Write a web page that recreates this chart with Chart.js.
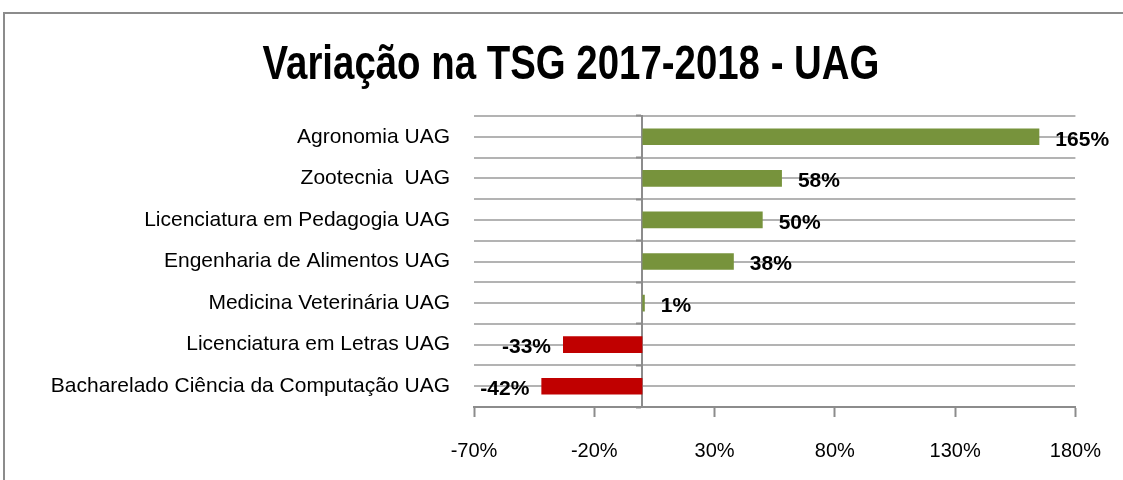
<!DOCTYPE html>
<html>
<head>
<meta charset="utf-8">
<script src="https://cdn.jsdelivr.net/npm/chart.js@4"></script>
<style>
  html, body { margin: 0; padding: 0; background: #fff; overflow: hidden; }
  #wrap { position: relative; width: 1123px; height: 480px; }
  #frame { position: absolute; left: 3px; top: 12px; width: 2000px; height: 2000px; border: 2px solid #8c8c8c; pointer-events: none; }
  #title {
    position: absolute; left: 571px; top: 39px; margin: 0;
    font: bold 48px/1 'Liberation Sans', Arial, sans-serif; color: #000;
    white-space: nowrap; transform: translateX(-50%) scaleX(0.8); transform-origin: center;
  }
</style>
</head>
<body>
<div id="wrap">
  <canvas id="chart" width="1123" height="480"></canvas>
  <div id="frame"></div>
  <h1 id="title">Variação na TSG 2017-2018 - UAG</h1>
</div>
<script>
const courses = [
  'Agronomia UAG',
  'Zootecnia  UAG',
  'Licenciatura em Pedagogia UAG',
  'Engenharia de Alimentos UAG',
  'Medicina Veterinária UAG',
  'Licenciatura em Letras UAG',
  'Bacharelado Ciência da Computação UAG'
];
const variation = [165, 58, 50, 38, 1, -33, -42];
const tickValues = [-70, -20, 30, 80, 130, 180];

const GREEN = '#77933c';
const RED = '#c00000';
const GRID = '#b3b3b3';
const AXIS = '#8c8c8c';
const FONT = "'Liberation Sans', Arial, sans-serif";

// value labels next to each bar, placed from the bar elements
const valueLabels = {
  id: 'valueLabels',
  afterDatasetsDraw(chart) {
    const { ctx } = chart;
    const meta = chart.getDatasetMeta(0);
    ctx.save();
    ctx.font = `bold 21px ${FONT}`;
    ctx.fillStyle = '#000';
    ctx.textBaseline = 'middle';
    meta.data.forEach((bar, i) => {
      const v = variation[i];
      const txt = v + '%';
      if (v >= 0) {
        ctx.textAlign = 'left';
        ctx.fillText(txt, bar.x + 16, bar.y + 3);
      } else {
        ctx.textAlign = 'right';
        ctx.fillText(txt, bar.x - 12, bar.y + 3);
      }
    });
    ctx.restore();
  }
};

new Chart(document.getElementById('chart').getContext('2d'), {
  type: 'bar',
  data: {
    labels: courses,
    datasets: [{
      data: variation,
      backgroundColor: variation.map(v => v < 0 ? RED : GREEN),
      categoryPercentage: 1,
      barPercentage: 0.4,
      yAxisID: 'y'
    }]
  },
  options: {
    indexAxis: 'y',
    responsive: false,
    animation: false,
    layout: { padding: { left: 4, right: 45, top: 116, bottom: 0 } },
    plugins: {
      legend: { display: false },
      tooltip: { enabled: false },
      title: { display: false }
    },
    scales: {
      x: {
        type: 'linear',
        min: -70,
        max: 180,
        afterBuildTicks: s => { s.ticks = tickValues.map(v => ({ value: v })); },
        afterFit: s => { s.height = 73; },
        border: { display: true, color: AXIS, width: 2 },
        grid: { drawOnChartArea: false, drawTicks: true, tickLength: 10, tickColor: AXIS, tickWidth: 2 },
        ticks: {
          color: '#000',
          font: { family: FONT, size: 20 },
          padding: 22,
          callback: v => v + '%'
        }
      },
      y: {
        type: 'category',
        position: 'left',
        afterFit: s => { s.width = 470; },
        border: { display: false },
        grid: { offset: true, color: GRID, lineWidth: 2, drawTicks: false },
        ticks: { color: '#000', font: { family: FONT, size: 21 }, padding: 24 }
      },
      yMid: {
        type: 'category',
        position: 'right',
        offset: true,
        afterFit: s => { s.width = 0; },
        border: { display: false },
        grid: { offset: false, color: GRID, lineWidth: 2, drawTicks: false },
        ticks: { display: false }
      },
      yZero: {
        type: 'category',
        position: { x: 0 },
        offset: true,
        border: { display: true, color: AXIS, width: 2 },
        grid: { offset: true, drawOnChartArea: false, drawTicks: true, tickLength: 5, tickColor: AXIS, tickWidth: 2 },
        ticks: { display: false }
      }
    }
  },
  plugins: [valueLabels]
});
</script>
</body>
</html>
